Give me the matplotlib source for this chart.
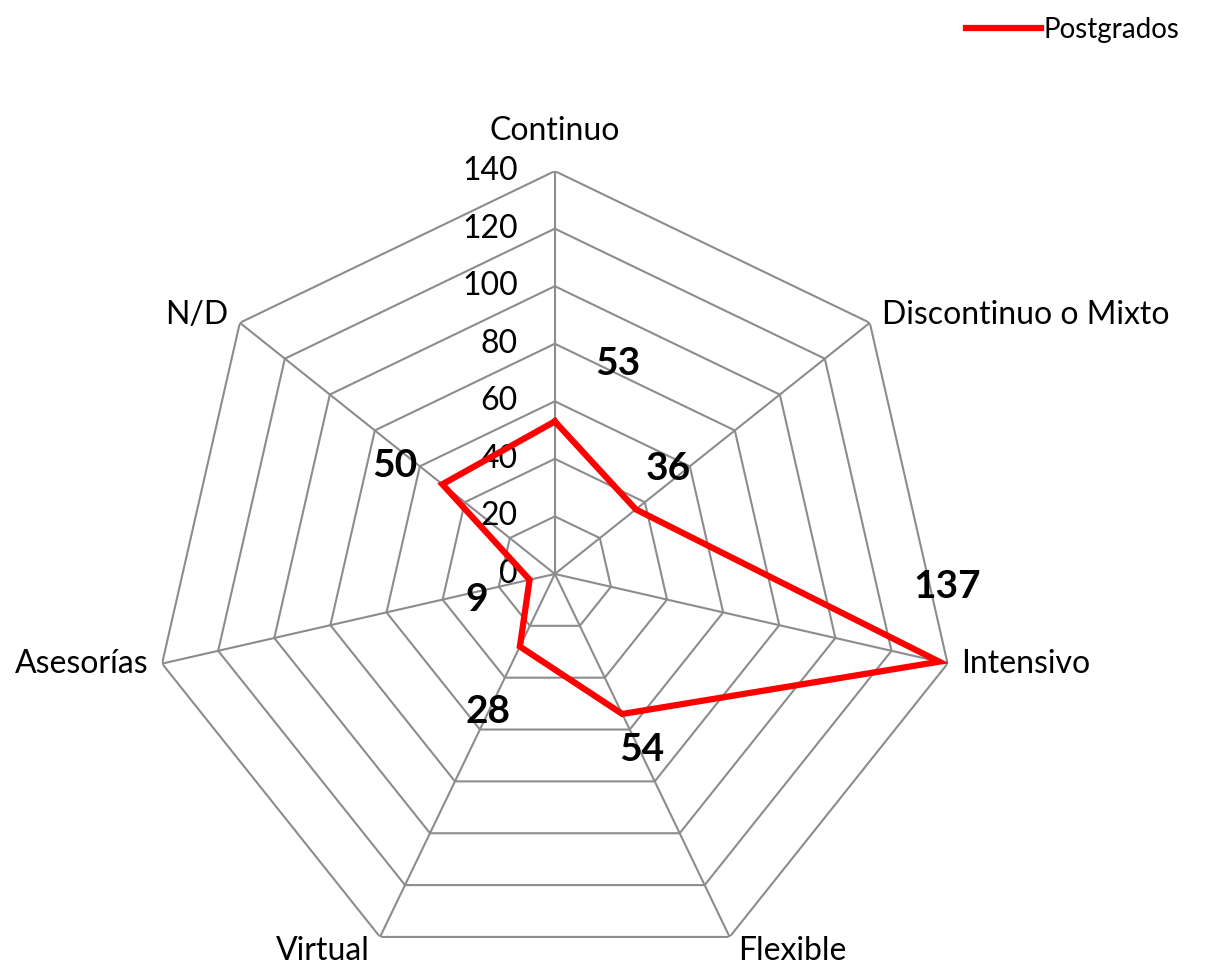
import numpy as np
import matplotlib
matplotlib.use("Agg")
import matplotlib.pyplot as plt

plt.rcParams['font.family'] = ['Lato', 'DejaVu Sans']

categorias = ["Continuo", "Discontinuo o Mixto", "Intensivo", "Flexible",
              "Virtual", "Asesorías", "N/D"]
valores = [53, 36, 137, 54, 28, 9, 50]
niveles = [0, 20, 40, 60, 80, 100, 120, 140]
serie = "Postgrados"

# posición de las etiquetas de datos (pixeles desde el punto)
offsets = [(63, 58), (32, 41), (8, 75), (20, -36), (-32, -65), (-53, -20), (-47, 19)]
# posición de los nombres de categoría
cat_off = [(0, 40), (12, 8), (14, 0), (8, -14), (-10, -14), (-14, 0), (-12, 8)]
cat_ha = ["center", "left", "left", "left", "right", "right", "right"]

n = len(categorias)
angulos = np.arange(n) * 2 * np.pi / n

fig = plt.figure(figsize=(12.08, 9.64), dpi=100)
ax = fig.add_axes([0.1258, -0.0134, 0.667, 0.836], projection="polar")
ax.set_theta_zero_location("N")
ax.set_theta_direction(-1)
ax.set_ylim(0, 140)
ax.grid(False)
ax.spines["polar"].set_visible(False)
ax.set_xticks([])
ax.set_yticks([])
ax.patch.set_visible(False)

gris = "#8c8c8c"
ang_cerr = np.append(angulos, angulos[0])
for nv in niveles[1:]:
    ax.plot(ang_cerr, [nv] * (n + 1), color=gris, lw=1.5, zorder=1)
for a in angulos:
    ax.plot([a, a], [0, niveles[-1]], color=gris, lw=1.5, zorder=1)

for nv in niveles:
    ax.annotate(str(nv), (0, nv), xytext=(-37, 0), textcoords="offset pixels",
                ha="right", va="center", fontsize=23, zorder=2)

val_cerr = valores + valores[:1]
linea, = ax.plot(ang_cerr, val_cerr, color="#ff0000", lw=4.5, zorder=3,
                 solid_joinstyle="miter", label=serie)

for a, v, off in zip(angulos, valores, offsets):
    ax.annotate(str(v), (a, v), xytext=off, textcoords="offset pixels",
                ha="center", va="center", fontsize=28, fontweight="bold", zorder=4)

for a, c, off, ha in zip(angulos, categorias, cat_off, cat_ha):
    ax.annotate(c, (a, niveles[-1]), xytext=off, textcoords="offset pixels",
                ha=ha, va="center", fontsize=23, annotation_clip=False)

fig.legend(handles=[linea], loc="upper right", bbox_to_anchor=(0.99, 1.0),
           frameon=False, fontsize=20, handlelength=2.7, handletextpad=0.1,
           borderaxespad=0.2)

fig.savefig("out.png", dpi=100)
